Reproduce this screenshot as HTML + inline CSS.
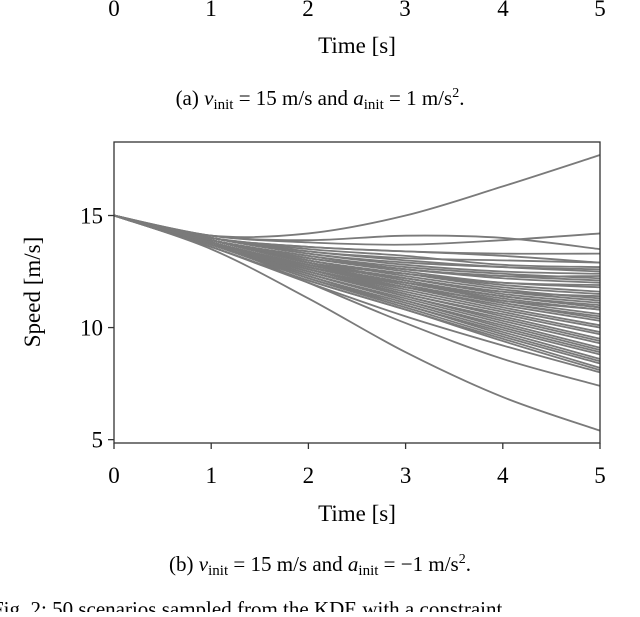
<!DOCTYPE html>
<html><head><meta charset="utf-8">
<style>
body{margin:0;background:#fff;width:640px;height:612px;overflow:hidden}
svg{font-family:"Liberation Serif",serif}
</style></head><body>
<svg width="640" height="612">
<g font-size="23" text-anchor="middle">
<text x="114" y="16">0</text><text x="211" y="16">1</text><text x="308" y="16">2</text><text x="405" y="16">3</text><text x="503" y="16">4</text><text x="600" y="16">5</text></g>
<text x="357" y="53" font-size="23" text-anchor="middle">Time [s]</text>
<text x="320" y="105" font-size="21" text-anchor="middle">(a) <tspan font-style="italic">v</tspan><tspan font-size="15" dy="4">init</tspan><tspan dy="-4"> = 15 m/s and </tspan><tspan font-style="italic">a</tspan><tspan font-size="15" dy="4">init</tspan><tspan dy="-4"> = 1 m/s</tspan><tspan font-size="14" dy="-8">2</tspan><tspan dy="8">.</tspan></text>
<g id="plot"></g>
<text transform="translate(40,292) rotate(-90)" font-size="23" text-anchor="middle">Speed [m/s]</text>
<text x="357" y="521" font-size="23" text-anchor="middle">Time [s]</text>
<text x="320" y="571" font-size="21" text-anchor="middle">(b) <tspan font-style="italic">v</tspan><tspan font-size="15" dy="4">init</tspan><tspan dy="-4"> = 15 m/s and </tspan><tspan font-style="italic">a</tspan><tspan font-size="15" dy="4">init</tspan><tspan dy="-4"> = −1 m/s</tspan><tspan font-size="14" dy="-8">2</tspan><tspan dy="8">.</tspan></text>
<text x="-8" y="616" font-size="21">Fig. 2: 50 scenarios sampled from the KDE with a constraint</text>
</svg>
<script>
const times=[0,1,2,3,4,5];
const xTicks=[0,1,2,3,4,5];
const yTicks=[5,10,15];
const curves=[
[15,14.1,14.2,15.0,16.3,17.7],
[15,14.1,13.9,14.1,14.0,13.5],
[15,14.1,13.8,13.7,13.9,14.2],
[15,14.0,13.6,13.4,13.3,13.3],
[15,14.0,13.6,13.4,13.2,12.9],
[15,14.0,13.4,13.1,13.0,12.9],
[15,14.0,13.3,12.9,12.7,12.6],
[15,14.0,13.3,12.8,12.5,12.4],
[15,13.9,13.2,12.7,12.4,12.2],
[15,13.9,13.2,12.6,12.3,12.1],
[15,13.9,13.1,12.6,12.2,12.0],
[15,13.9,13.1,12.5,12.0,11.8],
[15,13.9,13.0,12.4,11.9,11.6],
[15,13.9,13.0,12.4,11.8,11.5],
[15,13.9,13.0,12.3,11.7,11.3],
[15,13.9,12.9,12.2,11.6,11.2],
[15,13.9,12.9,12.2,11.5,11.1],
[15,13.9,12.9,12.1,11.4,11.0],
[15,13.9,12.9,12.1,11.4,10.9],
[15,13.8,12.8,12.0,11.3,10.8],
[15,13.8,12.8,12.0,11.2,10.6],
[15,13.8,12.8,11.9,11.1,10.5],
[15,13.8,12.7,11.9,11.1,10.4],
[15,13.8,12.7,11.8,11.0,10.3],
[15,13.8,12.7,11.8,10.9,10.1],
[15,13.8,12.6,11.7,10.8,10.0],
[15,13.8,12.6,11.6,10.7,9.8],
[15,13.8,12.6,11.5,10.6,9.7],
[15,13.8,12.5,11.5,10.5,9.5],
[15,13.8,12.5,11.4,10.4,9.4],
[15,13.7,12.5,11.4,10.3,9.3],
[15,13.7,12.4,11.3,10.2,9.1],
[15,13.7,12.4,11.2,10.1,9.0],
[15,13.7,12.4,11.2,10.0,8.9],
[15,13.7,12.3,11.1,9.9,8.8],
[15,13.7,12.3,11.0,9.8,8.6],
[15,13.7,12.2,11.0,9.7,8.5],
[15,13.7,12.2,10.9,9.6,8.4],
[15,13.6,12.1,10.8,9.5,8.2],
[15,13.6,12.1,10.8,9.4,8.1],
[15,13.6,12.0,10.5,9.2,8.0],
[15,13.8,12.0,10.2,8.6,7.4],
[15,13.5,11.3,8.9,6.9,5.4],
[15,14.0,13.5,13.2,12.8,12.7],
[15,14.0,13.4,13.0,12.7,12.5],
[15,13.9,13.1,12.6,12.3,12.3],
[15,13.9,12.9,12.4,12.0,11.9],
[15,13.8,12.8,12.2,11.6,11.4],
[15,13.8,12.7,12.0,11.4,10.9],
[15,13.8,12.6,11.8,11.2,10.8]
];
const X0=114,X1=600,Y0=142,Y1=443,VMIN=4.85,VMAX=18.28;
const sx=t=>X0+(t-0)/(5-0)*(X1-X0);
const sy=v=>Y1-(v-VMIN)/(VMAX-VMIN)*(Y1-Y0);
const NS="http://www.w3.org/2000/svg";
const g=document.getElementById('plot');
function mk(tag,attrs){const e=document.createElementNS(NS,tag);for(const k in attrs)e.setAttribute(k,attrs[k]);g.appendChild(e);return e;}
curves.forEach((c,i)=>{
  const pts=c.map((v,j)=>[sx(times[j]),sy(v)]);
  let d=`M${pts[0][0]},${pts[0][1]}`;
  for(let j=0;j<pts.length-1;j++){
    const p0=pts[Math.max(0,j-1)],p1=pts[j],p2=pts[j+1],p3=pts[Math.min(pts.length-1,j+2)];
    const c1=[p1[0]+(p2[0]-p0[0])/6,p1[1]+(p2[1]-p0[1])/6];
    const c2=[p2[0]-(p3[0]-p1[0])/6,p2[1]-(p3[1]-p1[1])/6];
    d+=`C${c1[0]},${c1[1]} ${c2[0]},${c2[1]} ${p2[0]},${p2[1]}`;
  }
  const p=mk('path',{d:d,fill:'none',stroke:'#7a7a7a','stroke-width':1.8});
  
  
});
const frame=mk('rect',{x:X0,y:Y0,width:X1-X0,height:Y1-Y0,fill:'none',stroke:'#333','stroke-width':1.3});


xTicks.forEach(t=>{
  const l=mk('line',{x1:sx(t),x2:sx(t),y1:Y1,y2:Y1+6,stroke:'#333','stroke-width':1.3});
  
  
  const tx=mk('text',{x:sx(t),y:483,'font-size':23,'text-anchor':'middle'});
  tx.textContent=t;
  
  
});
yTicks.forEach(v=>{
  const l=mk('line',{x1:X0-6,x2:X0,y1:sy(v),y2:sy(v),stroke:'#333','stroke-width':1.3});
  
  
  const tx=mk('text',{x:X0-11,y:sy(v)+8,'font-size':23,'text-anchor':'end'});
  tx.textContent=v;
  
  
});
</script>
</body></html>
